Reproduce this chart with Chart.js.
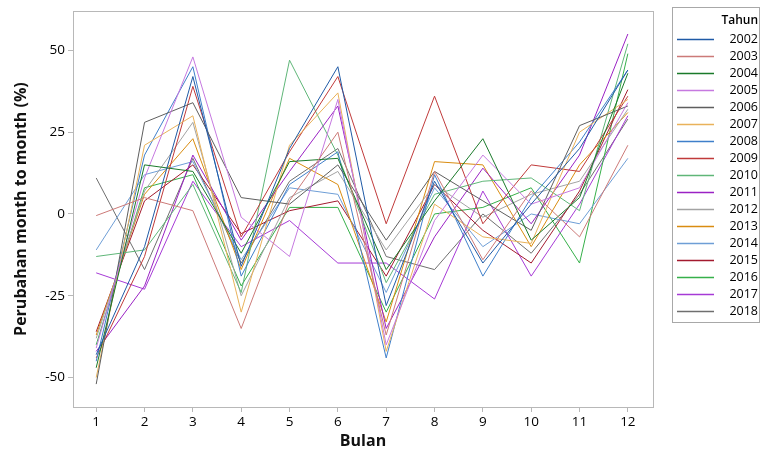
<!DOCTYPE html>
<html>
<head>
<meta charset="utf-8">
<script src="https://cdn.jsdelivr.net/npm/chart.js@4"></script>
<style>
  html, body { margin: 0; padding: 0; background: #fff; }
  #wrap { width: 761px; height: 453px; position: relative; }
</style>
</head>
<body>
<div id="wrap"><canvas id="chart"></canvas></div>
<script>
// Perubahan month to month per tahun
const bulan = [1, 2, 3, 4, 5, 6, 7, 8, 9, 10, 11, 12];
const yTicks = [-50, -25, 0, 25, 50];
const tahun = ['2002', '2003', '2004', '2005', '2006', '2007', '2008', '2009', '2010',
  '2011', '2012', '2013', '2014', '2015', '2016', '2017', '2018'];

const v2002 = [-43, -10, 42, -16, 20, 45, -28, 10, -15, 3, 20, 44];
const v2003 = [-0.5, 5, 1, -35, 4, 25, -37, 13, -14, 7, -7, 21];
const v2004 = [-47, 15, 13, -12, 16, 17, -17, 4, 23, -8, 5, 43];
const v2005 = [-41, 11, 48, -1, -13, 35, -40, -2, 18, 3, 8, 34];
const v2006 = [-52, 28, 34, 5, 3, 15, -8, 13, 4, -5, 27, 33];
const v2007 = [-50, 21, 30, -30, 21, 37, -42, 3, -7, -9, 25, 35];
const v2008 = [-45, 18, 45, -19, 9, 19, -44, 12, -19, 5, 22, 44];
const v2009 = [-44, -13, 39, -7, 19, 42, -3, 36, -3, 15, 13, 36];
const v2010 = [-13, -11, 9, -24, 47, 18, -21, 6, 10, 11, 1, 52];
const v2011 = [-42, -22, 18, -8, 13, 33, -35, -7, 14, -3, 18, 55];
const v2012 = [-38, 7, 28, -25, 5, 13, -11, 9, -1, 6, 10, 32];
const v2013 = [-37, 6, 23, -17, 17, 9, -33, 16, 15, -10, 15, 31];
const v2014 = [-11, 12, 16, -14, 8, 6, -24, 8, -10, 0, -3, 17];
const v2015 = [-36, 4, 15, -6, 1, 4, -19, 9, -5, -15, 7, 38];
const v2016 = [-40, 8, 12, -22, 2, 2, -30, 0, 2, 8, -15, 49];
const v2017 = [-18, -23, 10, -10, -2, -15, -15, -26, 7, -19, 3, 30];
const v2018 = [11, -17, 17, -15, 10, 20, -13, -17, 0, -12, 6, 29];

const nilai = [v2002, v2003, v2004, v2005, v2006, v2007, v2008, v2009, v2010,
  v2011, v2012, v2013, v2014, v2015, v2016, v2017, v2018];

const warna = ['#1f5aa6', '#cc7a78', '#1a7a2a', '#c679e0', '#5e5e5e', '#e9b25a',
  '#3f7fca', '#c03a3a', '#5fb678', '#9a22c4', '#a3a3a3', '#d98c10', '#6e9ed6',
  '#a31a2e', '#36b04a', '#a63ad6', '#6f6f6f'];

const FONT = "'Open Sans', 'DejaVu Sans', sans-serif";

const datasets = tahun.map((t, i) => ({
  label: t,
  data: bulan.map((b, j) => ({ x: b, y: nilai[i][j] })),
  borderColor: warna[i],
  backgroundColor: warna[i],
  borderWidth: 1,
  pointRadius: 0,
  tension: 0,
  fill: false
}));

// frame around plot + legend box on the right
const framePlugin = {
  id: 'frame',
  afterDraw(chart) {
    const { ctx, chartArea: a } = chart;
    ctx.save();
    ctx.strokeStyle = '#b8b8b8';
    ctx.lineWidth = 1;
    ctx.strokeRect(Math.round(a.left) + 0.5, Math.round(a.top) + 0.5,
      Math.round(a.right - a.left), Math.round(a.bottom - a.top));

    // legend
    const lx = 672, ly = 7, lw = 87, lh = 315;
    ctx.strokeStyle = '#a8a8a8';
    ctx.strokeRect(lx + 0.5, ly + 0.5, lw, lh);
    ctx.fillStyle = '#000';
    ctx.textAlign = 'right';
    ctx.textBaseline = 'middle';
    ctx.font = '600 12px ' + FONT;
    ctx.fillText('Tahun', 758, 21);
    ctx.font = '12.5px ' + FONT;
    chart.data.datasets.forEach((ds, i) => {
      const y = 39 + i * 17;
      ctx.strokeStyle = ds.borderColor;
      ctx.lineWidth = 1.5;
      ctx.beginPath();
      ctx.moveTo(677, y + 0.5);
      ctx.lineTo(714, y + 0.5);
      ctx.stroke();
      ctx.fillStyle = '#000';
      ctx.fillText(ds.label, 758, y);
    });
    ctx.restore();
  }
};

new Chart(document.getElementById('chart'), {
  type: 'line',
  data: { datasets },
  options: {
    responsive: true,
    maintainAspectRatio: false,
    animation: false,
    layout: { padding: { top: 10, right: 108, bottom: 0, left: 0 } },
    plugins: {
      legend: { display: false },
      tooltip: { enabled: false }
    },
    scales: {
      x: {
        type: 'linear',
        min: 0.52,
        max: 12.52,
        afterBuildTicks: axis => { axis.ticks = bulan.map(v => ({ value: v })); },
        afterFit: axis => { axis.height = 46; },
        grid: { drawOnChartArea: false, drawTicks: true, tickLength: 5, color: '#b8b8b8' },
        border: { display: false },
        ticks: { color: '#000', padding: 2, font: { family: FONT, size: 13.5 } },
        title: {
          display: true, text: 'Bulan', color: '#111',
          padding: { top: 0, bottom: 2 },
          font: { family: FONT, size: 16, weight: 'bold' }
        }
      },
      y: {
        type: 'linear',
        min: -59,
        max: 62,
        afterBuildTicks: axis => { axis.ticks = yTicks.map(v => ({ value: v })); },
        afterFit: axis => { axis.width = 73; },
        grid: { drawOnChartArea: false, drawTicks: true, tickLength: 5, color: '#b8b8b8' },
        border: { display: false },
        ticks: { color: '#000', padding: 3, font: { family: FONT, size: 13.5 } },
        title: {
          display: true, text: 'Perubahan month to month (%)', color: '#111',
          padding: { top: 12, bottom: 0 },
          font: { family: FONT, size: 16, weight: 'bold' }
        }
      }
    }
  },
  plugins: [framePlugin]
});
</script>
</body>
</html>
